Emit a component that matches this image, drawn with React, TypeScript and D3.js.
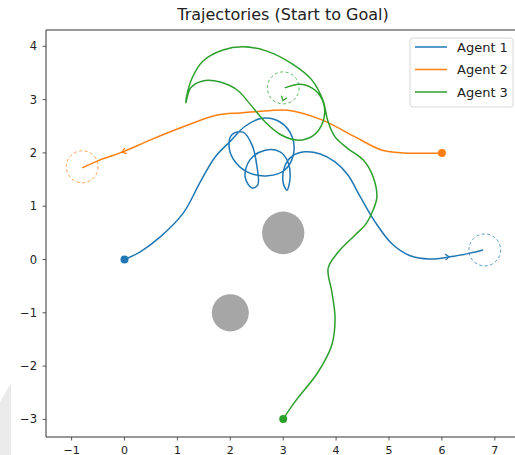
import React from "react";
import * as d3 from "d3";

type Pt = [number, number];

const agentNames = ["Agent 1", "Agent 2", "Agent 3"];
const agentColors = ["#1f77b4", "#ff7f0e", "#2ca02c"];

// Agent 1: start (0, 0) -> goal near (6.8, 0.2), looping around the middle
const agent1Path: Pt[] = [
  [0, 0], [0.29, 0.14], [0.67, 0.42], [1.11, 0.87], [1.43, 1.45], [1.71, 1.92],
  [2.0, 2.22], [2.28, 2.5], [2.6, 2.65], [2.94, 2.58], [3.17, 2.3], [3.19, 1.96],
  [3.03, 1.68], [2.71, 1.57], [2.37, 1.62], [2.11, 1.81], [1.98, 2.09], [2.03, 2.34],
  [2.24, 2.39], [2.41, 2.15], [2.5, 1.77], [2.52, 1.4], [2.41, 1.34], [2.28, 1.55],
  [2.37, 1.87], [2.66, 2.05], [2.94, 2.02], [3.09, 1.83], [3.13, 1.53], [3.07, 1.3],
  [3.0, 1.44], [3.03, 1.75], [3.17, 1.94], [3.41, 2.02], [3.7, 1.98], [3.98, 1.83],
  [4.22, 1.59], [4.45, 1.19], [4.74, 0.7], [5.06, 0.29], [5.4, 0.07], [5.77, 0.01],
  [6.15, 0.05], [6.53, 0.12], [6.78, 0.18],
];

// Agent 2: start (6, 2) -> goal near (-0.8, 1.7)
const agent2Path: Pt[] = [
  [6.0, 2.0], [5.3, 2.0], [4.87, 2.05], [4.36, 2.3], [3.73, 2.62], [3.09, 2.8],
  [2.47, 2.77], [2.18, 2.75], [1.75, 2.71], [1.11, 2.49], [0.48, 2.24], [-0.03, 2.02],
  [-0.46, 1.87], [-0.8, 1.72],
];

// Agent 3: start (3, -3) -> goal near (3, 3.2), with a hook over the top
const agent3Path: Pt[] = [
  [3.0, -2.99], [3.22, -2.67], [3.66, -2.11], [3.92, -1.6], [3.98, -1.1], [3.92, -0.61],
  [3.85, -0.16], [4.04, 0.14], [4.36, 0.46], [4.55, 0.65], [4.7, 0.93], [4.77, 1.17],
  [4.7, 1.55], [4.51, 1.87], [4.21, 2.09], [3.98, 2.3], [3.85, 2.58], [3.75, 2.99],
  [3.54, 3.37], [3.17, 3.67], [2.69, 3.91], [2.24, 3.99], [1.86, 3.93], [1.48, 3.72],
  [1.28, 3.41], [1.18, 3.09], [1.16, 2.94], [1.25, 3.22], [1.48, 3.35], [1.81, 3.33],
  [2.13, 3.18], [2.37, 2.92], [2.66, 2.58], [2.94, 2.35], [3.26, 2.24], [3.56, 2.32],
  [3.75, 2.58], [3.77, 2.9], [3.6, 3.18], [3.32, 3.29], [3.03, 3.22],
];

const agentPaths = [agent1Path, agent2Path, agent3Path];

const goals: Pt[] = [[6.81, 0.18], [-0.8, 1.74], [3.0, 3.22]];
const goalRadius = 0.3;

// direction markers along each trajectory: [x, y, heading in degrees]
const arrowMarks: [number, number, number][] = [
  [6.12, 0.05, 5],
  [-0.03, 2.02, 200],
  [3.0, 3.0, 250],
];

const obstacleX = [3, 2];
const obstacleY = [0.5, -1];
const obstacleR = [0.4, 0.35];

const xTicks = [-1, 0, 1, 2, 3, 4, 5, 6, 7];
const yTicks = [-3, -2, -1, 0, 1, 2, 3, 4];

const W = 515;
const H = 455;
const left = 46;
const right = 520;
const top = 30;
const bottom = 437;

const fmt = (v: number) => (v < 0 ? "\u2212" + Math.abs(v) : String(v));

export default function App() {
  const x = d3.scaleLinear().domain([-1.484, 7.476]).range([left, right]);
  const y = d3.scaleLinear().domain([-3.33, 4.306]).range([bottom, top]);
  const line = d3
    .line<Pt>()
    .x((d) => x(d[0]))
    .y((d) => y(d[1]))
    .curve(d3.curveCatmullRom.alpha(0.5));
  const rx = (r: number) => x(r) - x(0);
  const ry = (r: number) => y(0) - y(r);
  const font = "'DejaVu Sans', sans-serif";

  return (
    <svg
      width={W}
      height={H}
      style={{ position: "absolute", left: 0, top: 0, background: "#fff" }}
      fontFamily={font}
    >
      <defs>
        <clipPath id="plot-area">
          <rect x={left} y={top} width={right - left} height={bottom - top} />
        </clipPath>
      </defs>
      <rect width={W} height={H} fill="#fff" />
      <polygon points="0,402 11,383 11,455 0,455" fill="#ebebeb" />

      <g clipPath="url(#plot-area)">
        {obstacleX.map((ox, i) => (
          <ellipse
            key={"o" + i}
            cx={x(ox)}
            cy={y(obstacleY[i])}
            rx={rx(obstacleR[i])}
            ry={ry(obstacleR[i])}
            fill="#808080"
            fillOpacity={0.7}
          />
        ))}
        {goals.map((g, i) => (
          <ellipse
            key={"g" + i}
            cx={x(g[0])}
            cy={y(g[1])}
            rx={rx(goalRadius)}
            ry={ry(goalRadius)}
            fill="none"
            stroke={agentColors[i]}
            strokeWidth={1}
            strokeDasharray="3,2.5"
            strokeOpacity={0.75}
          />
        ))}
        {agentPaths.map((p, i) => (
          <path
            key={"p" + i}
            d={line(p) ?? ""}
            fill="none"
            stroke={agentColors[i]}
            strokeWidth={1.5}
            strokeLinejoin="round"
          />
        ))}
        {arrowMarks.map((a, i) => (
          <path
            key={"a" + i}
            transform={`translate(${x(a[0])},${y(a[1])}) rotate(${-a[2]})`}
            d="M-3,-3 L1,0 L-3,3"
            fill="none"
            stroke={agentColors[i]}
            strokeWidth={1.2}
          />
        ))}
        {agentPaths.map((p, i) => (
          <circle
            key={"s" + i}
            cx={x(p[0][0])}
            cy={y(p[0][1])}
            r={4}
            fill={agentColors[i]}
          />
        ))}
      </g>

      {/* spines */}
      <line x1={left} x2={left} y1={top} y2={bottom} stroke="#333" strokeWidth={1} />
      <line x1={left} x2={right} y1={bottom} y2={bottom} stroke="#333" strokeWidth={1} />
      <line x1={left} x2={right} y1={top} y2={top} stroke="#333" strokeWidth={1} />
      <line x1={right} x2={right} y1={top} y2={bottom} stroke="#333" strokeWidth={1} />

      {/* ticks */}
      {xTicks.map((t) => (
        <g key={"xt" + t}>
          <line x1={x(t)} x2={x(t)} y1={bottom} y2={bottom + 3.5} stroke="#333" strokeWidth={0.8} />
          <text x={x(t)} y={453.5} fontSize={11} textAnchor="middle" fill="#222">
            {fmt(t)}
          </text>
        </g>
      ))}
      {yTicks.map((t) => (
        <g key={"yt" + t}>
          <line x1={left - 3.5} x2={left} y1={y(t)} y2={y(t)} stroke="#333" strokeWidth={0.8} />
          <text x={37} y={y(t) + 4} fontSize={11.5} textAnchor="end" fill="#222">
            {fmt(t)}
          </text>
        </g>
      ))}

      <text x={(left + right) / 2} y={20} fontSize={16} textAnchor="middle" fill="#222">
        Trajectories (Start to Goal)
      </text>

      {/* legend */}
      <g>
        <rect x={410} y={38} width={103} height={69} rx={3} fill="#fff" fillOpacity={0.8} stroke="#d8d8d8" />
        {agentNames.map((n, i) => (
          <g key={"l" + i}>
            <line x1={415} x2={447} y1={47 + i * 22.5} y2={47 + i * 22.5} stroke={agentColors[i]} strokeWidth={1.5} />
            <text x={457} y={47 + i * 22.5 + 4.5} fontSize={13} fill="#222">
              {n}
            </text>
          </g>
        ))}
      </g>
    </svg>
  );
}
